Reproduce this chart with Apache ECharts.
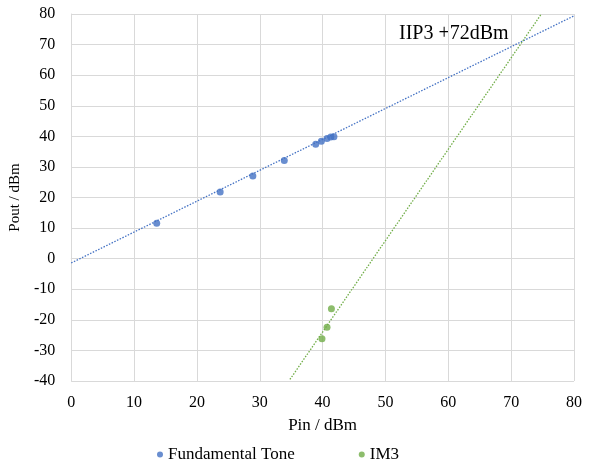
<!DOCTYPE html>
<html><head><meta charset="utf-8">
<script src="https://cdn.jsdelivr.net/npm/echarts@6/dist/echarts.min.js"></script>
<style>html,body{margin:0;padding:0;background:#fff}#c{width:592px;height:464px}</style>
</head><body><div id="c"></div>
<script>
const fundPin = [13.6, 23.7, 28.9, 33.9, 38.9, 39.8, 40.7, 41.3, 41.8];
const fundPout = [11.6, 21.8, 27.0, 32.1, 37.4, 38.4, 39.3, 39.8, 39.9];
const im3Pin = [39.9, 40.7, 41.4];
const im3Pout = [-26.2, -22.4, -16.4];
const fundTrendPin = [0, 80];
const fundTrendPout = [-1.4, 79.4];
const im3TrendPin = [34.8, 74.8];
const im3TrendPout = [-39.5, 80];
const xTicks = [0, 80, 10];
const yTicks = [-40, 80, 10];
const annotation = 'IIP3 +72dBm';

const pairs = (a, b) => a.map((v, i) => [v, b[i]]);
const FONT = '"Liberation Serif", "Times New Roman", serif';
const BLUE = '#4472C4', GREEN = '#70AD47';

const chart = echarts.init(document.getElementById('c'));
chart.setOption({
  animation: false,
  grid: { left: 68, right: 18, top: 14, bottom: 83, containLabel: false },
  xAxis: {
    type: 'value', min: xTicks[0], max: xTicks[1], interval: xTicks[2],
    name: 'Pin / dBm', nameLocation: 'middle', nameGap: 36,
    nameTextStyle: { fontFamily: FONT, fontSize: 17, color: '#000' },
    axisLine: { show: true, lineStyle: { color: '#d9d9d9', width: 1 } },
    axisTick: { show: false },
    axisLabel: { fontFamily: FONT, fontSize: 16, color: '#000', margin: 14 },
    splitLine: { show: true, lineStyle: { color: '#d9d9d9', width: 1 } }
  },
  yAxis: {
    type: 'value', min: yTicks[0], max: yTicks[1], interval: yTicks[2],
    name: 'Pout / dBm', nameLocation: 'middle', nameGap: 46, nameRotate: 90,
    nameTextStyle: { fontFamily: FONT, fontSize: 15, color: '#000' },
    axisLine: { show: true, lineStyle: { color: '#d9d9d9', width: 1 } },
    axisTick: { show: false },
    axisLabel: { fontFamily: FONT, fontSize: 16, color: '#000', margin: 16 },
    splitLine: { show: true, lineStyle: { color: '#d9d9d9', width: 1 } }
  },
  legend: {
    top: 441, left: 152,
    data: ['Fundamental Tone', 'IM3'],
    icon: 'circle', itemWidth: 6, itemHeight: 6, itemGap: 64,
    textStyle: { fontFamily: FONT, fontSize: 17, color: '#000' }
  },
  graphic: [{
    type: 'text', left: 399, top: 24,
    style: { text: annotation, fontFamily: FONT, fontSize: 20, fill: '#000' }
  }],
  series: [
    {
      name: 'Fundamental Tone trend', type: 'line', data: pairs(fundTrendPin, fundTrendPout),
      showSymbol: false, symbol: 'none', lineStyle: { color: BLUE, width: 1.3, type: [1.5, 1.5] },
      silent: true, z: 1
    },
    {
      name: 'IM3 trend', type: 'line', data: pairs(im3TrendPin, im3TrendPout),
      showSymbol: false, symbol: 'none', lineStyle: { color: GREEN, width: 1.3, type: [1.5, 1.5] },
      silent: true, z: 1
    },
    {
      name: 'Fundamental Tone', type: 'scatter', data: pairs(fundPin, fundPout),
      symbol: 'circle', symbolSize: 7, itemStyle: { color: BLUE }, z: 3
    },
    {
      name: 'IM3', type: 'scatter', data: pairs(im3Pin, im3Pout),
      symbol: 'circle', symbolSize: 7, itemStyle: { color: GREEN }, z: 3
    }
  ]
});
</script></body></html>
